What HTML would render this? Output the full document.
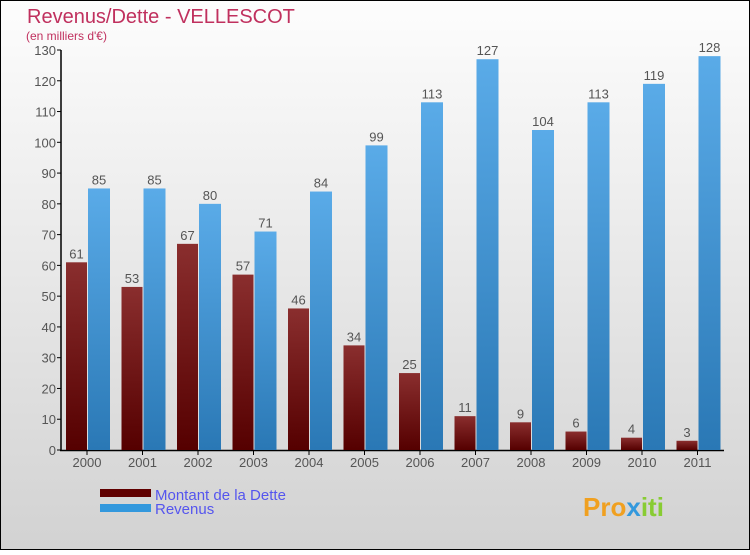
<!DOCTYPE html>
<html><head><meta charset="utf-8"><style>
body{margin:0;width:750px;height:550px;overflow:hidden;font-family:"Liberation Sans",sans-serif}
</style></head><body>
<svg width="750" height="550" xmlns="http://www.w3.org/2000/svg">
<defs>
<linearGradient id="bg" x1="0" y1="0" x2="0" y2="1"><stop offset="0" stop-color="#fdfdfd"/><stop offset="1" stop-color="#d2d2d2"/></linearGradient>
<linearGradient id="gd" x1="0" y1="0" x2="0" y2="1"><stop offset="0" stop-color="#8a2e2e"/><stop offset="1" stop-color="#550000"/></linearGradient>
<linearGradient id="gr" x1="0" y1="0" x2="0" y2="1"><stop offset="0" stop-color="#5aabe8"/><stop offset="1" stop-color="#2a78b5"/></linearGradient>
</defs>
<rect x="0.5" y="0.5" width="749" height="549" fill="url(#bg)" stroke="#000"/>
<text x="27" y="23" font-size="20" fill="#c0305e">Revenus/Dette - VELLESCOT</text>
<text x="26" y="40" font-size="12" fill="#c0305e">(en milliers d'€)</text>
<g id="axes"></g>
<g id="bars"></g>
<rect x="100" y="489" width="51" height="8" fill="#600000"/>
<rect x="100" y="504" width="51" height="8" fill="#3398dd"/>
<text x="155" y="500" font-size="15" fill="#5555ee">Montant de la Dette</text>
<text x="155" y="514" font-size="15" fill="#5555ee">Revenus</text>
<text x="583" y="516" font-size="26" font-weight="bold" fill="#f0a020">Pro<tspan fill="#3399dd">x</tspan><tspan fill="#88cc33">iti</tspan></text>
</svg>
<script>
const years=["2000","2001","2002","2003","2004","2005","2006","2007","2008","2009","2010","2011"];
const dette=[61,53,67,57,46,34,25,11,9,6,4,3];
const revenus=[85,85,80,71,84,99,113,127,104,113,119,128];
const yTicks=[0,10,20,30,40,50,60,70,80,90,100,110,120,130];
const NS="http://www.w3.org/2000/svg";
const y=v=>450-v*400/130;
const xc=i=>87+i*55.5;
function mk(t,a,p){const e=document.createElementNS(NS,t);for(const k in a)e.setAttribute(k,a[k]);p.appendChild(e);return e;}
const ax=document.getElementById('axes'),bg=document.getElementById('bars');
yTicks.forEach(v=>{
 const l=mk('line',{x1:57,x2:61,y1:y(v),y2:y(v),stroke:'#000'},ax);
 
 
 const t=mk('text',{x:56,y:y(v)+5,'text-anchor':'end','font-size':13,fill:'#555'},ax);
 
 
 t.textContent=v;
});
years.forEach((yr,i)=>{
 const c=xc(i);
 const d=mk('rect',{x:c-21,y:y(dette[i]),width:21,height:450-y(dette[i]),fill:'url(#gd)'},bg);
 
 
 const r=mk('rect',{x:c+1,y:y(revenus[i]),width:22,height:450-y(revenus[i]),fill:'url(#gr)'},bg);
 
 
 const t1=mk('text',{x:c-10.5,y:y(dette[i])-4,'text-anchor':'middle','font-size':13,fill:'#555'},bg);
 
 
 t1.textContent=dette[i];
 const t2=mk('text',{x:c+12,y:y(revenus[i])-4,'text-anchor':'middle','font-size':13,fill:'#555'},bg);
 
 
 t2.textContent=revenus[i];
 const tk=mk('line',{x1:c,x2:c,y1:450,y2:455,stroke:'#000'},ax);
 
 
 const xl=mk('text',{x:c,y:467,'text-anchor':'middle','font-size':13,fill:'#555'},ax);
 
 
 xl.textContent=yr;
});
const ya=mk('line',{x1:61,x2:61,y1:50,y2:451,stroke:'#000','stroke-width':1.5},ax);


const xa=mk('line',{x1:60,x2:724,y1:450.5,y2:450.5,stroke:'#000','stroke-width':1.5},ax);


</script>
</body></html>
